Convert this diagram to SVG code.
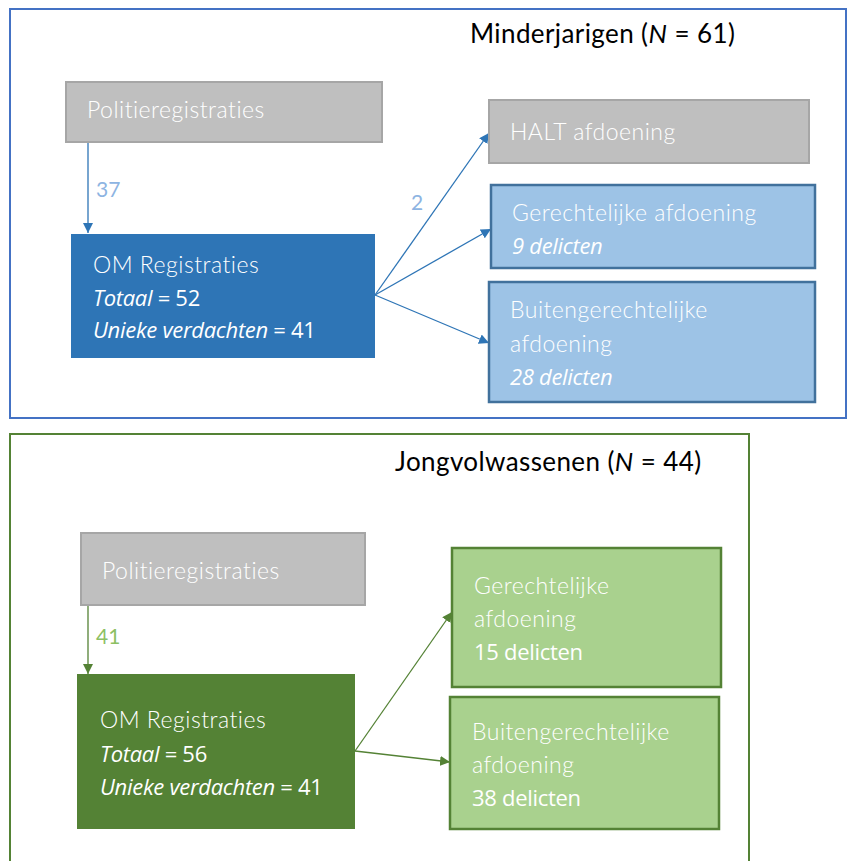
<svg xmlns="http://www.w3.org/2000/svg" width="852" height="861" viewBox="0 0 852 861">
<defs>
<style>
text{font-family:"Lato","Open Sans","Liberation Sans",sans-serif;}
.t{font-size:23px;fill:#ffffff;font-weight:300;letter-spacing:0.5px;}
.ti{font-family:"Open Sans","Lato",sans-serif;font-size:22px;fill:#ffffff;font-style:italic;font-weight:400;letter-spacing:-0.3px;}
.tb{font-family:"Open Sans","Lato",sans-serif;font-size:22px;fill:#ffffff;font-weight:400;letter-spacing:-0.3px;}
.title{font-size:26px;fill:#000000;font-weight:400;letter-spacing:0.4px;}
.lbl{font-size:21px;font-weight:400;}
.gray{fill:#BFBFBF;stroke:#A6A6A6;stroke-width:2;}
.lb{fill:#9DC3E6;stroke:#41719C;stroke-width:2.5;}
.lg{fill:#A9D18E;stroke:#548235;stroke-width:2.5;}
.cb{stroke:#2E75B6;stroke-width:1.3;fill:none;}
.cg{stroke:#548235;stroke-width:1.3;fill:none;}
</style>
<marker id="ab" viewBox="0 0 10 10" refX="10" refY="5" markerWidth="10" markerHeight="10" markerUnits="userSpaceOnUse" orient="auto"><path d="M0,0 L10,5 L0,10 z" fill="#2E75B6"/></marker>
<marker id="ag" viewBox="0 0 10 10" refX="10" refY="5" markerWidth="10" markerHeight="10" markerUnits="userSpaceOnUse" orient="auto"><path d="M0,0 L10,5 L0,10 z" fill="#548235"/></marker>
</defs>
<rect width="852" height="861" fill="#ffffff"/>

<g id="frame-minderjarigen">
<rect x="10" y="9" width="836" height="409" fill="none" stroke="#4472C4" stroke-width="2"/>
<text class="title" x="470" y="43">Minderjarigen (<tspan font-style="italic">N</tspan> = 61)</text>
</g>

<g id="frame-jongvolwassenen">
<rect x="10" y="434" width="739" height="440" fill="none" stroke="#548235" stroke-width="2"/>
<text class="title" x="395" y="471">Jongvolwassenen (<tspan font-style="italic">N</tspan> = 44)</text>
</g>

<g id="connectors">
<line class="cb" x1="88" y1="142" x2="88" y2="233" marker-end="url(#ab)"/>
<line class="cb" x1="375" y1="295" x2="489" y2="133" marker-end="url(#ab)"/>
<line class="cb" x1="375" y1="295" x2="491" y2="229" marker-end="url(#ab)"/>
<line class="cb" x1="375" y1="295" x2="489" y2="343" marker-end="url(#ab)"/>
<line class="cg" x1="88" y1="606" x2="88" y2="674" marker-end="url(#ag)"/>
<line class="cg" x1="355" y1="751" x2="452" y2="612" marker-end="url(#ag)"/>
<line class="cg" x1="355" y1="751" x2="450" y2="762" marker-end="url(#ag)"/>
<text class="lbl" x="96" y="197" fill="#8DB4E2">37</text>
<text class="lbl" x="411" y="210" font-size="17" fill="#8DB4E2">2</text>
<text class="lbl" x="96" y="644" fill="#8CC063">41</text>
</g>

<g id="politie-m">
<rect class="gray" x="66" y="82" width="316" height="60"/>
<text class="t" x="87" y="118">Politieregistraties</text>
</g>

<g id="om-m">
<rect x="71" y="234" width="304" height="124" fill="#2E75B6"/>
<text class="t" x="93" y="273">OM Registraties</text>
<text class="tb" x="93" y="306"><tspan font-style="italic">Totaal</tspan> = 52</text>
<text class="tb" x="93" y="338"><tspan font-style="italic">Unieke verdachten</tspan> = 41</text>
</g>

<g id="halt-m">
<rect class="gray" x="489" y="100" width="320" height="63"/>
<text class="t" x="510" y="140">HALT afdoening</text>
</g>

<g id="gerecht-m">
<rect class="lb" x="491" y="185" width="324" height="83"/>
<text class="t" x="512" y="221">Gerechtelijke afdoening</text>
<text class="ti" x="512" y="254">9 delicten</text>
</g>

<g id="buiten-m">
<rect class="lb" x="489" y="282" width="326" height="120"/>
<text class="t" x="510" y="318">Buitengerechtelijke</text>
<text class="t" x="510" y="352">afdoening</text>
<text class="ti" x="510" y="385">28 delicten</text>
</g>

<g id="politie-j">
<rect class="gray" x="81" y="533" width="284" height="72"/>
<text class="t" x="102" y="579">Politieregistraties</text>
</g>

<g id="om-j">
<rect x="77" y="674" width="278" height="155" fill="#548235"/>
<text class="t" x="100" y="728">OM Registraties</text>
<text class="tb" x="100" y="762"><tspan font-style="italic">Totaal</tspan> = 56</text>
<text class="tb" x="100" y="795"><tspan font-style="italic">Unieke verdachten</tspan> = 41</text>
</g>

<g id="gerecht-j">
<rect class="lg" x="452" y="548" width="269" height="139"/>
<text class="t" x="474" y="594">Gerechtelijke</text>
<text class="t" x="474" y="627">afdoening</text>
<text class="tb" x="474" y="660">15 delicten</text>
</g>

<g id="buiten-j">
<rect class="lg" x="450" y="697" width="269" height="132"/>
<text class="t" x="472" y="740">Buitengerechtelijke</text>
<text class="t" x="472" y="773">afdoening</text>
<text class="tb" x="472" y="806">38 delicten</text>
</g>
</svg>
